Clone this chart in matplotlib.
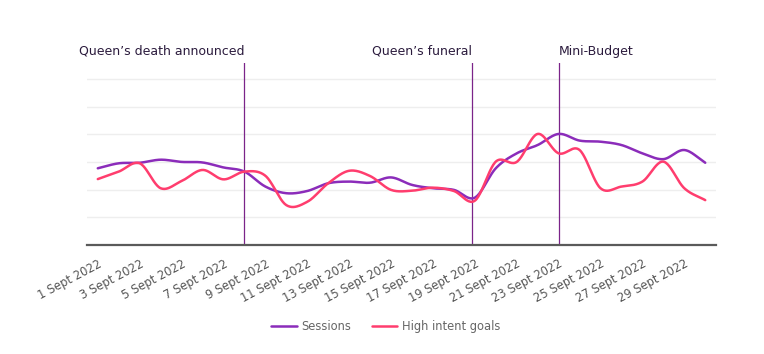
import numpy as np
import matplotlib
matplotlib.use("Agg")
import matplotlib.pyplot as plt
import matplotlib.transforms as mtransforms

dates = [f"{d} Sept 2022" for d in range(1, 31)]
sessions = [2.77, 2.95, 2.97, 3.08, 3.00, 2.98, 2.80, 2.65, 2.11, 1.87,
            1.95, 2.23, 2.29, 2.25, 2.44, 2.17, 2.05, 1.99, 1.71, 2.77,
            3.31, 3.61, 4.01, 3.77, 3.73, 3.61, 3.31, 3.10, 3.43, 2.97]
high_intent = [2.38, 2.65, 2.95, 2.05, 2.31, 2.71, 2.37, 2.65, 2.50, 1.44,
               1.56, 2.23, 2.68, 2.49, 1.99, 1.96, 2.07, 1.95, 1.60, 3.01,
               3.00, 4.01, 3.31, 3.43, 2.05, 2.11, 2.29, 3.01, 2.05, 1.62]
events = ["Queen\u2019s death announced", "Queen\u2019s funeral", "Mini-Budget"]
event_pos = [7, 17.85, 22]
event_align = ["right", "right", "left"]

SESS_C = "#8B2CBA"
HIGH_C = "#FF3D6E"
VLINE_C = "#7B2489"
TEXT_C = "#2B1B3D"


def catmull_rom(y, n=24):
    y = np.asarray(y, float)
    x = np.arange(len(y), dtype=float)
    m = np.zeros_like(y)
    m[1:-1] = (y[2:] - y[:-2]) / 2
    m[0] = y[1] - y[0]
    m[-1] = y[-1] - y[-2]
    xs, ys = [], []
    for i in range(len(y) - 1):
        t = np.linspace(0, 1, n, endpoint=False)
        h00 = 2 * t**3 - 3 * t**2 + 1
        h10 = t**3 - 2 * t**2 + t
        h01 = -2 * t**3 + 3 * t**2
        h11 = t**3 - t**2
        xs.append(x[i] + t)
        ys.append(h00 * y[i] + h10 * m[i] + h01 * y[i + 1] + h11 * m[i + 1])
    xs.append([x[-1]])
    ys.append([y[-1]])
    return np.concatenate(xs), np.concatenate(ys)


fig = plt.figure(figsize=(7.64, 3.54), dpi=100)
ax = fig.add_axes([0.1143, 0.3079, 0.8225, 0.514])

for yv in range(1, 7):
    ax.axhline(yv, color="#EEEEEE", lw=1.0, zorder=0)

xs, ys = catmull_rom(sessions)
ax.plot(xs, ys, color=SESS_C, lw=1.8, label="Sessions", zorder=3, solid_capstyle="round")
xs, ys = catmull_rom(high_intent)
ax.plot(xs, ys, color=HIGH_C, lw=1.8, label="High intent goals", zorder=3, solid_capstyle="round")

trans = mtransforms.blended_transform_factory(ax.transData, ax.transAxes)
for name, pos, al in zip(events, event_pos, event_align):
    ax.axvline(pos, color=VLINE_C, lw=0.9, zorder=2)
    ax.text(pos, 1.03, name, transform=trans, ha=al, va="bottom",
            fontsize=9.0, color=TEXT_C)

ax.set_xlim(-0.5, 29.5)
ax.set_ylim(0, 6.57)
ax.set_yticks([])
for s in ["top", "right", "left"]:
    ax.spines[s].set_visible(False)
ax.spines["bottom"].set_color("#5A5A5A")
ax.spines["bottom"].set_linewidth(1.6)
ax.spines["bottom"].set_zorder(4)

ticks = list(range(0, 30, 2))
ax.set_xticks(ticks)
ax.set_xticklabels([dates[i] for i in ticks], rotation=28, ha="right",
                   rotation_mode="anchor", fontsize=8.3, color="#555555")
ax.tick_params(axis="x", length=0, pad=9)

leg = fig.legend(loc="center", bbox_to_anchor=(0.505, 0.077), ncol=2, frameon=False,
                 fontsize=8.3, handlelength=2.2, handletextpad=0.4, columnspacing=1.8)
for t in leg.get_texts():
    t.set_color("#666666")

fig.savefig("out.png", dpi=100)
